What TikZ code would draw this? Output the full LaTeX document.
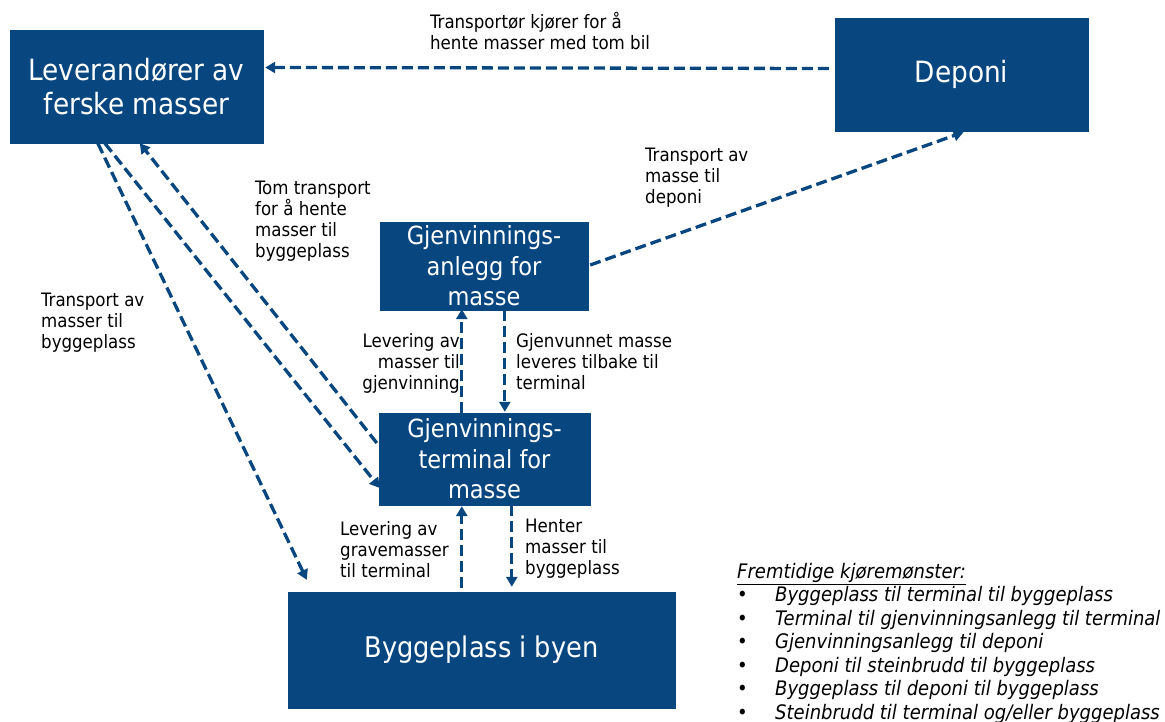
\documentclass[tikz,border=0pt]{standalone}
\usepackage{fontspec}
\setmainfont{DejaVu Sans Condensed}
\usetikzlibrary{arrows.meta,calc}
\definecolor{navy}{RGB}{8,70,128}
\tikzset{
  box/.style={fill=navy,draw=navy,text=white,align=center,inner sep=0pt},
  flow/.style={draw=navy,line width=3.3pt,dash pattern=on 11pt off 5pt,-{Triangle[length=10pt,width=11pt]}},
  lbl/.style={inner sep=0pt,align=left,anchor=north west,font=\fontsize{18.5}{21}\selectfont},
}
\begin{document}
\begin{tikzpicture}[x=1pt,y=-1pt]
\useasboundingbox (0,0) rectangle (1165,722);
% boxes
\node[box,minimum width=253pt,minimum height=113pt,font=\fontsize{29.3}{34}\selectfont] (lev) at (136.5,86.5) {Leverandører av\\ferske masser};
\node[box,minimum width=253pt,minimum height=113pt,font=\fontsize{29.3}{34}\selectfont] (dep) at (961.5,74.5) {Deponi};
\node[box,minimum width=208pt,minimum height=88pt,font=\fontsize{25}{30.5}\selectfont] (anl) at (484,266) {Gjenvinnings-\\anlegg for\\masse};
\node[box,minimum width=211pt,minimum height=92pt,font=\fontsize{25}{30.5}\selectfont] (ter) at (484.5,459) {Gjenvinnings-\\terminal for\\masse};
\node[box,minimum width=387pt,minimum height=116pt,font=\fontsize{28.5}{32}\selectfont] (byg) at (481.5,650) {Byggeplass i byen};
% connectors
\draw[flow] ($(dep.west)+(-6,-6)$) -- ($(lev.east)+(2,-19)$);
\draw[flow] ($(anl.east)+(2,-1)$) -- ($(dep.south)+(2,1)$);
\draw[flow] ($(ter.west)+(-2,-16)$) -- ($(lev.south west)+(130,0)$);
\draw[flow] ($(lev.south west)+(95,0)$) -- ($(ter.west)+(1,29)$);
\draw[flow] ($(lev.south west)+(88,0)$) -- ($(byg.north west)+(19,-12)$);
\draw[flow] ($(ter.north west)+(83,0)$) -- ($(anl.south west)+(82,-1)$);
\draw[flow] ($(anl.south west)+(125,0)$) -- ($(ter.north west)+(126,-1)$);
\draw[flow] ($(byg.north west)+(174,-4)$) -- ($(ter.south west)+(83,1)$);
\draw[flow] ($(ter.south west)+(133,0)$) -- ($(byg.north west)+(224,-5)$);
% labels
\node[lbl] (l1) at (430,12.4) {Transportør kjører for å\\hente masser med tom bil};
\node[lbl] (l2) at (645,147.4) {Transport av\\masse til\\deponi};
\node[lbl] (l3) at (255,180.4) {Tom transport\\for å hente\\masser til\\byggeplass};
\node[lbl] (l4) at (41,292.4) {Transport av\\masser til\\byggeplass};
\node[lbl,align=right,anchor=north east] (l5) at (460,333.4) {Levering av\\masser til\\gjenvinning};
\node[lbl] (l6) at (516,333.4) {Gjenvunnet masse\\leveres tilbake til\\terminal};
\node[lbl] (l7) at (340,521.4) {Levering av\\gravemasser\\til terminal};
\node[lbl] (l8) at (525,518.4) {Henter\\masser til\\byggeplass};
% legend
\node[inner sep=0pt,anchor=north west,align=left,font=\fontsize{20}{23.5}\selectfont\itshape] (leg) at (737,563) {%
\underline{Fremtidige kjøremønster:}\\
\makebox[38pt][l]{\upshape•}Byggeplass til terminal til byggeplass\\
\makebox[38pt][l]{\upshape•}Terminal til gjenvinningsanlegg til terminal\\
\makebox[38pt][l]{\upshape•}Gjenvinningsanlegg til deponi\\
\makebox[38pt][l]{\upshape•}Deponi til steinbrudd til byggeplass\\
\makebox[38pt][l]{\upshape•}Byggeplass til deponi til byggeplass\\
\makebox[38pt][l]{\upshape•}Steinbrudd til terminal og/eller byggeplass};
\end{tikzpicture}
\end{document}
